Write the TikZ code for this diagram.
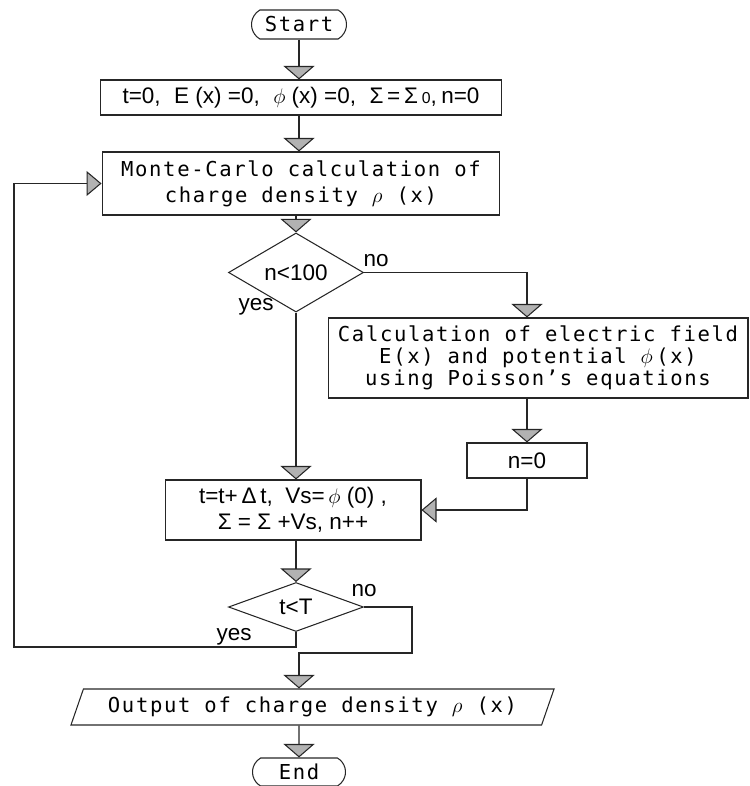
\documentclass[tikz,border=0pt]{standalone}
\usepackage{fontspec}
\setmainfont{Liberation Sans}
\newfontfamily\gothic[LetterSpace=8]{DejaVu Sans Mono}
\usetikzlibrary{shapes.geometric,shapes.misc,arrows.meta}

\begin{document}
\begin{tikzpicture}[
    x=0.02cm, y=-0.02cm,
    every node/.style={font=\fontsize{12.8}{15}\selectfont},
    mono/.style={font=\gothic\fontsize{11.7}{14.8}\selectfont},
    box/.style={draw=black!85, line width=0.6pt, inner sep=0pt, align=center},
    term/.style={box, mono, rounded rectangle, rounded rectangle arc length=120},
    decide/.style={draw=black!85, line width=0.6pt, diamond, inner sep=0pt, minimum width=2.7cm, minimum height=0.98cm},
    lbl/.style={inner sep=1pt},
    arr/.style={draw=black!85, line width=0.6pt, -{Triangle[width=0.62cm, length=0.27cm, fill=gray!60]}},
    arrh/.style={draw=black!85, line width=0.6pt, -{Triangle[width=0.5cm, length=0.3cm, fill=gray!60]}}
]
\useasboundingbox (0,0) rectangle (749,786);

% main column
\node[term, minimum width=1.9cm, minimum height=0.58cm] (start) at (299,24.5) {Start};
\node[box, minimum width=8.04cm, minimum height=0.7cm] (init) at (301,97.5)
    {t=0,\hspace{0.6em}E\;(x)\;=0,\hspace{0.6em}$\phi$\;(x)\;=0,\hspace{0.6em}Σ\,=\,Σ\,{\fontsize{9}{9}\selectfont 0},\hspace{0.2em}n=0};
\node[box, mono, minimum width=7.96cm, minimum height=1.26cm] (mc) at (301,183.5)
    {Monte-Carlo calculation of\\charge density $\rho$ (x)};
\node[decide] (d1) at (296,272.5) {n<100};

% right branch
\node[box, mono, font=\gothic\fontsize{11.7}{12.5}\selectfont, minimum width=8.4cm, minimum height=1.6cm] (calc) at (538,358)
    {Calculation of electric field\\E(x) and potential $\phi$\,(x)\\using Poisson’s equations};
\node[box, minimum width=2.4cm, minimum height=0.7cm] (reset) at (527,460.5) {n=0};

% update and time check
\node[box, minimum width=5.12cm, minimum height=1.2cm] (upd) at (293,510)
    {t=t+\,Δ\,t,\ \ Vs=\,$\phi$\ (0)\ ,\\Σ\;=\;Σ\;+Vs,\;n++};
\node[decide] (d2) at (296,607) {t<T};

% output and end
\node[trapezium, trapezium left angle=61, trapezium right angle=119, trapezium stretches=true,
      draw=black!85, line width=0.6pt, mono, inner sep=0pt, minimum width=9.7cm, minimum height=0.72cm] (out) at (312.5,707)
    {Output of charge density $\rho$ (x)};
\node[term, minimum width=1.86cm, minimum height=0.56cm] (end) at (299,772) {End};

% branch labels
\node[lbl] (d1no) at (376,261) {no};
\node[lbl] (d1yes) at (256,307) {yes};
\node[lbl] (d2no) at (364,591) {no};
\node[lbl] (d2yes) at (234,637) {yes};

% corners of the loops
\coordinate (loop) at (14,647);
\coordinate (exit) at (412,653);

% connectors
\draw[arr] (start.south) -- (start.south |- init.north);
\draw[arr] (init.south -| start) -- (mc.north -| start);
\draw[arr] (mc.south -| d1) -- (d1);
\draw[arr] (d1.south) -- (d1.south |- upd.north);
\draw[arr] (d1.east) -| (calc.north -| reset);
\draw[arr] (calc.south -| reset) -- (reset);
\draw[arrh] (reset) |- (upd);
\draw[arr] (upd.south -| d2) -- (d2);
\draw[arrh] (d2.south) |- (loop) |- (mc.west);
\draw[arr] (d2.east) -| (exit) -| (out.north -| end);
\draw[arr] (out.south -| end) -- (end);
\end{tikzpicture}
\end{document}
